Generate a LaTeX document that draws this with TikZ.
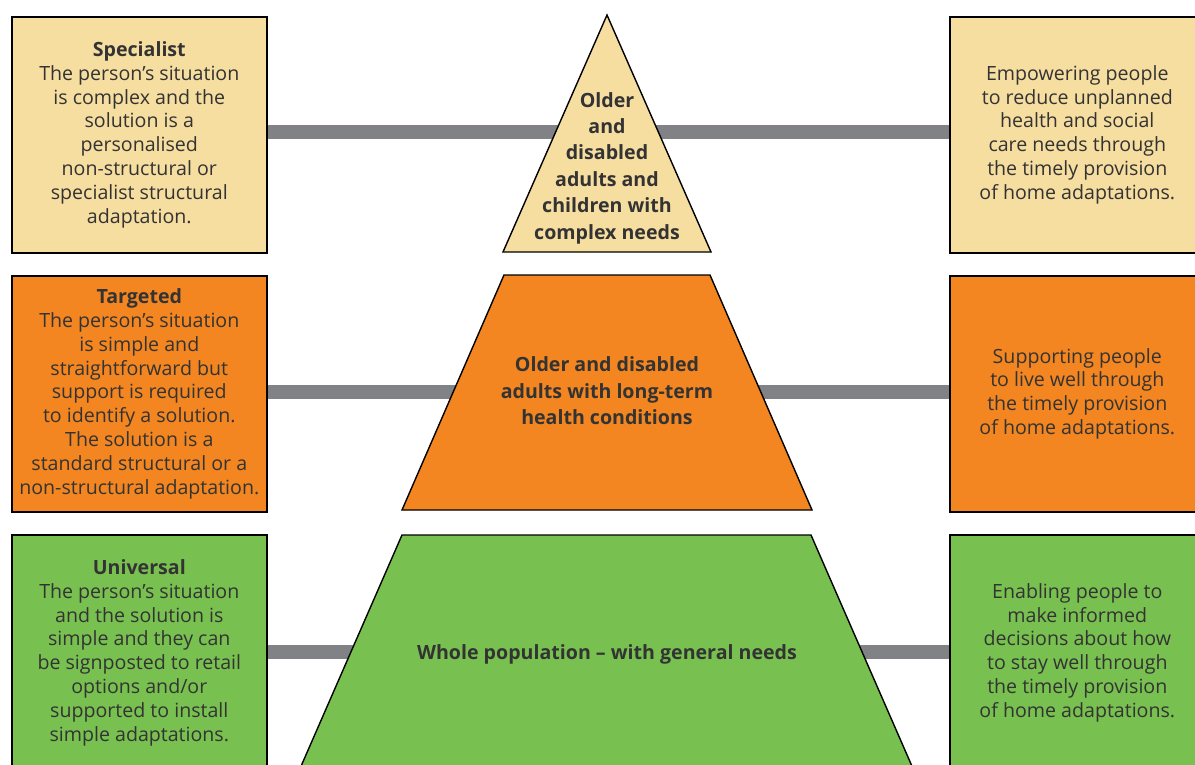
\documentclass[tikz,border=0pt]{standalone}
\usepackage{fontspec}
\setmainfont{Open Sans}
\definecolor{pale}{HTML}{F6DDA0}
\definecolor{orng}{HTML}{F38620}
\definecolor{grn}{HTML}{78C150}
\definecolor{barc}{HTML}{808285}
\definecolor{txt}{HTML}{333333}
\tikzset{
  box/.style={draw=black, line width=1.6pt, minimum width=255pt, minimum height=236pt,
    inner sep=0pt, align=center, text=txt, font=\fontsize{19.6}{23.8}\selectfont, anchor=north west},
  band/.style={draw=black, line width=1.4pt, line join=miter},
  bandtext/.style={align=center, text=txt, font=\bfseries\fontsize{19.6}{26.4}\selectfont},
  barline/.style={draw=barc, line width=14pt}
}
\begin{document}
\begin{tikzpicture}[x=1pt,y=-1pt]
\useasboundingbox (0,0) rectangle (1195,765);
\clip (0,0) rectangle (1195,765);
\fill[white] (0,0) rectangle (1195,765);
% left boxes
\node[box, fill=pale] (ls) at (11,16) {\textbf{Specialist}\\The person’s situation\\is complex and the\\solution is a\\personalised\\non-structural or\\specialist structural\\adaptation.};
\node[box, fill=orng] (lt) at (11,275) {\textbf{Targeted}\\The person’s situation\\is simple and\\straightforward but\\support is required\\to identify a solution.\\The solution is a\\standard structural or a\\non-structural adaptation.};
\node[box, fill=grn] (lu) at (11,534) {\textbf{Universal}\\The person’s situation\\and the solution is\\simple and they can\\be signposted to retail\\options and/or\\supported to install\\simple adaptations.};
% right boxes
\node[box, fill=pale] (rs) at (949,16) {Empowering people\\to reduce unplanned\\health and social\\care needs through\\the timely provision\\of home adaptations.};
\node[box, fill=orng] (rt) at (949,275) {Supporting people\\to live well through\\the timely provision\\of home adaptations.};
\node[box, fill=grn] (ru) at (949,534) {Enabling people to\\make informed\\decisions about how\\to stay well through\\the timely provision\\of home adaptations.};
% bars
\draw[barline] ([yshift=3pt]ls.east) -- ([yshift=3pt]rs.west);
\draw[barline] ([yshift=2pt]lt.east) -- ([yshift=2pt]rt.west);
\draw[barline] ([yshift=1pt]lu.east) -- ([yshift=1pt]ru.west);
% pyramid bands
\coordinate (apex) at (607,15);
\draw[band, fill=pale] (apex) -- (711,252) -- (503,252) -- cycle;
\draw[band, fill=orng] (504,275) -- (710,275) -- (812,510) -- (402,510) -- cycle;
\draw[band, fill=grn] (402,535) -- (811,535) -- (918,780) -- (295,780) -- cycle;
\node[bandtext] (ps) at (607,168) {Older\\and\\disabled\\adults and\\children with\\complex needs};
\node[bandtext] (pt) at (607,391) {Older and disabled\\adults with long-term\\health conditions};
\node[bandtext] (pu) at (607,654) {Whole population – with general needs};
\end{tikzpicture}
\end{document}
